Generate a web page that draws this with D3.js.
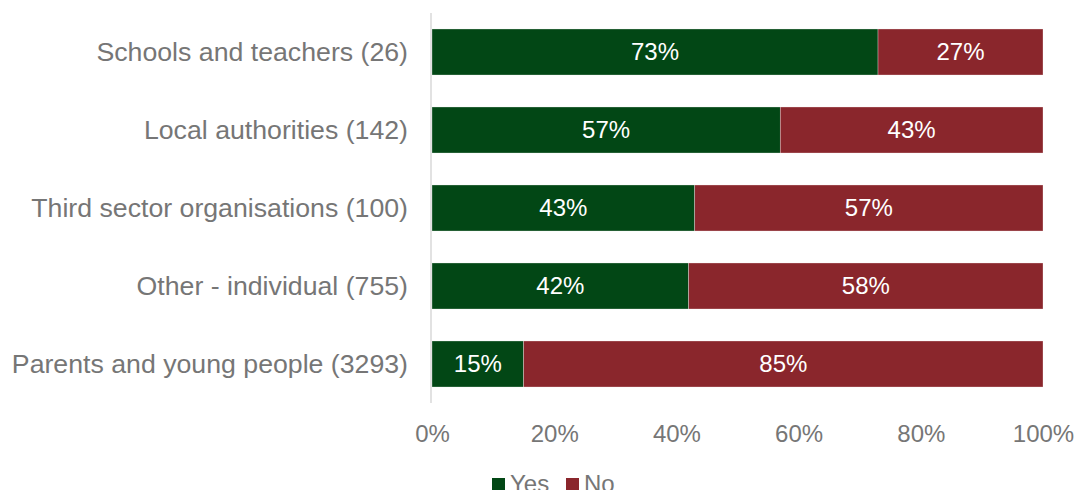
<!DOCTYPE html>
<html>
<head>
<meta charset="utf-8">
<script src="https://cdn.jsdelivr.net/npm/d3@7"></script>
<style>
  html, body { margin: 0; padding: 0; background: #fff; overflow: hidden; }
  svg { display: block; font-family: "Liberation Sans", Arial, sans-serif; }
</style>
</head>
<body>
<svg id="chart" width="1075" height="490"></svg>
<script>
// Respondent groups, top to bottom
const categories = [
  "Schools and teachers (26)",
  "Local authorities (142)",
  "Third sector organisations (100)",
  "Other - individual (755)",
  "Parents and young people (3293)"
];
// Share answering each option (%)
const yesValues = [73, 57, 43, 42, 15];
const noValues  = [27, 43, 57, 58, 85];
const seriesNames = ["Yes", "No"];
const tickValues = [0, 20, 40, 60, 80, 100];

const colors = { Yes: "#024715", No: "#8a262c" };
const textGray = "#767676";

const svg = d3.select("#chart");
const plotLeft = 432, plotRight = 1043, plotTop = 13, plotBottom = 403;

const x = d3.scaleLinear().domain([0, 100]).range([plotLeft, plotRight]);
const y = d3.scaleBand().domain(categories).range([plotTop, plotBottom])
  .paddingInner(0.41).paddingOuter(0.205);

const rows = categories.map((c, i) => ({ cat: c, Yes: yesValues[i], No: noValues[i] }));
const stacked = d3.stack().keys(seriesNames)(rows);

// Bars
const layers = svg.append("g").selectAll("g")
  .data(stacked).join("g")
  .attr("fill", d => colors[d.key]);

layers.selectAll("rect")
  .data(d => d)
  .join("rect")
  .attr("x", d => x(d[0]))
  .attr("y", d => y(d.data.cat))
  .attr("width", d => x(d[1]) - x(d[0]))
  .attr("height", y.bandwidth())
  .attr("stroke", "#ffffff")
  .attr("stroke-opacity", 0.5)
  .attr("stroke-width", 0.6);

// Value labels
layers.selectAll("text")
  .data(d => d)
  .join("text")
  .attr("x", d => (x(d[0]) + x(d[1])) / 2)
  .attr("y", d => y(d.data.cat) + y.bandwidth() / 2)
  .attr("dy", "0.35em")
  .attr("text-anchor", "middle")
  .attr("fill", "#ffffff")
  .style("font-size", "24px")
  .text(d => (d[1] - d[0]) + "%");

// Vertical axis line
svg.append("line")
  .attr("x1", plotLeft - 1).attr("x2", plotLeft - 1)
  .attr("y1", plotTop).attr("y2", plotBottom)
  .attr("stroke", "#d9d9d9").attr("stroke-width", 1.5);

// Category labels
svg.append("g").selectAll("text")
  .data(categories).join("text")
  .attr("x", 408)
  .attr("y", d => y(d) + y.bandwidth() / 2)
  .attr("dy", "0.35em")
  .attr("text-anchor", "end")
  .attr("fill", textGray)
  .style("font-size", "26.7px")
  .text(d => d);

// X axis tick labels
const xAxis = d3.axisBottom(x).tickValues(tickValues)
  .tickFormat(d => d + "%").tickSize(0).tickPadding(0);
const gx = svg.append("g").attr("transform", "translate(0, 442)").call(xAxis);
gx.select(".domain").remove();
gx.selectAll("text")
  .attr("fill", textGray)
  .attr("dy", "0")
  .style("font-size", "24px")
  .style("font-family", "'Liberation Sans', Arial, sans-serif");

// Legend
const legendItems = [
  { name: "Yes", x: 492 },
  { name: "No", x: 566 }
];
const lg = svg.append("g").selectAll("g").data(legendItems).join("g")
  .attr("transform", d => `translate(${d.x}, 478)`);
lg.append("rect").attr("width", 13).attr("height", 13)
  .attr("fill", d => colors[d.name]);
lg.append("text")
  .attr("x", 18).attr("y", 14)
  .attr("fill", textGray)
  .style("font-size", "24px")
  .text(d => d.name);
</script>
</body>
</html>
